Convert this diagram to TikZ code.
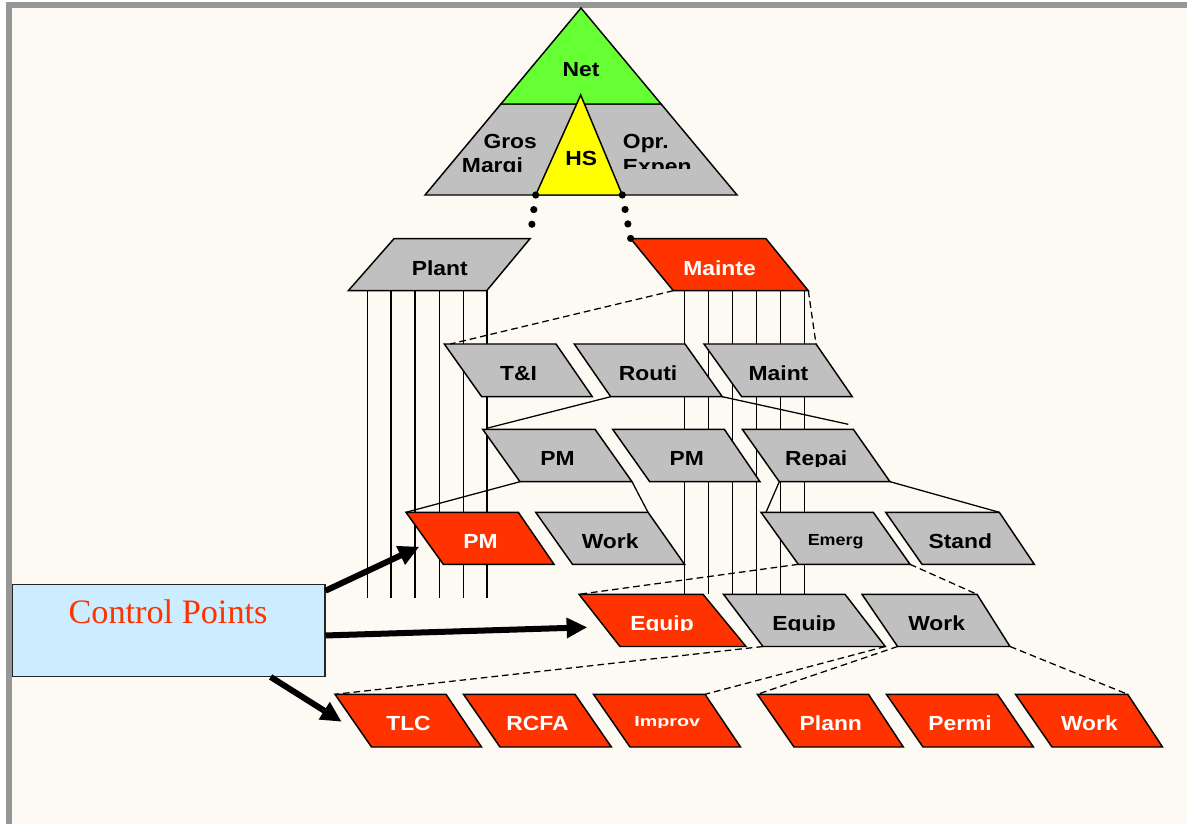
\documentclass[tikz,border=0pt]{standalone}
\usepackage{fontspec}
\usepackage{graphicx}
\setmainfont{Liberation Sans}
\newfontfamily\labfont[FakeStretch=1.12]{Liberation Sans}
\newfontfamily\cpfont{Liberation Serif}
\usetikzlibrary{arrows.meta,calc}

\definecolor{paper}{RGB}{253,249,243}
\definecolor{frame}{RGB}{150,150,150}
\definecolor{hot}{RGB}{255,51,0}
\definecolor{cool}{RGB}{192,192,192}
\definecolor{netgreen}{RGB}{102,255,51}
\definecolor{hsyellow}{RGB}{255,255,0}
\definecolor{cpblue}{RGB}{204,236,255}

\tikzset{
  shp/.style={draw=black, line width=1.1pt, line join=miter},
  grayshp/.style={shp, fill=cool},
  redshp/.style={shp, fill=hot},
  lbl/.style={inner sep=0pt, anchor=base, font=\labfont\bfseries\fontsize{15.3}{18}\selectfont},
  dk/.style={lbl, text=black},
  lt/.style={lbl, text=white},
  feed/.style={line width=0.95pt},
  feeddash/.style={line width=0.95pt, dash pattern=on 5pt off 3pt},
  rail/.style={line width=0.95pt},
  dots/.style={line width=5.4pt, line cap=round, dash pattern=on 0pt off 11.05pt},
  bigarrow/.style={line width=4.5pt, -{Triangle[length=15.5pt,width=14.5pt]}},
}

% parallelogram box: name, top-left x, top-right x, bottom-left x, bottom-right x, top y, bottom y, style
\newcommand\pgram[8]{%
  \coordinate (#1-tl) at (#2,#6);
  \coordinate (#1-tr) at (#3,#6);
  \coordinate (#1-bl) at (#4,#7);
  \coordinate (#1-br) at (#5,#7);
  \coordinate (#1-c) at ({(#2+#3+#4+#5)/4},{(#6+#7)/2});
  \draw[#8] (#1-tl) -- (#1-tr) -- (#1-br) -- (#1-bl) -- cycle;}

\begin{document}
\begin{tikzpicture}[x=0.75pt,y=-0.75pt]
  \useasboundingbox (0,0) rectangle (1187,824);
  % page frame
  \fill[white] (0,0) rectangle (1187,824);
  \fill[frame] (6,2) rectangle (1187,824);
  \fill[paper] (12,8) rectangle (1187,824);

  % vertical rails below Plant and Maintenance
  \foreach \x in {367.3,391,415,439.3,463.3,487}
    \draw[rail] (\x,290.7) -- (\x,598.3);
  \foreach \x in {684.3,708.3,732.3,756.7,780.7,804.3}
    \draw[rail] (\x,290.7) -- (\x,594.3);

  % boxes
  \pgram{plant}{394}{530}{348.3}{486.7}{238.7}{290.7}{grayshp}
  \pgram{mainte}{630.7}{766}{673.3}{808.3}{238.7}{290.7}{redshp}
  \pgram{ti}{444.3}{556}{481.7}{592.3}{344}{396.7}{grayshp}
  \pgram{routi}{574.3}{685}{610.7}{722.3}{344}{396.7}{grayshp}
  \pgram{maint}{704}{816}{741.7}{852.3}{344}{396.7}{grayshp}
  \pgram{pma}{482.7}{595}{520}{632}{429.3}{481.7}{grayshp}
  \pgram{pmb}{612.7}{724.3}{649.7}{760}{429.3}{481.7}{grayshp}
  \pgram{repai}{742.3}{853.3}{779.3}{890}{429.3}{481.7}{grayshp}
  \pgram{pmr}{406}{518.3}{443.3}{554}{512.3}{564.3}{redshp}
  \pgram{workd}{535.7}{648}{572.5}{684.5}{512.3}{564.3}{grayshp}
  \pgram{emerg}{761}{873.3}{798.3}{910}{512.3}{564.3}{grayshp}
  \pgram{stand}{885.7}{999.3}{922}{1034.3}{512.3}{564.3}{grayshp}
  \pgram{equipr}{579}{703}{620}{746}{594.3}{646.5}{redshp}
  \pgram{equipg}{723.5}{845}{763}{885.3}{594.3}{646.5}{grayshp}
  \pgram{worke}{862}{977}{897.6}{1010}{594.3}{646.5}{grayshp}
  \pgram{tlc}{335}{446}{371.5}{481.5}{694.3}{747}{redshp}
  \pgram{rcfa}{463.5}{575}{500}{611.4}{694.3}{747}{redshp}
  \pgram{improv}{593.5}{705}{630}{740.5}{694.3}{747}{redshp}
  \pgram{plann}{757.4}{868.5}{794}{903.3}{694.3}{747}{redshp}
  \pgram{permi}{886.4}{997.5}{923}{1033.4}{694.3}{747}{redshp}
  \pgram{workf}{1015.5}{1127.7}{1052}{1162.5}{694.3}{747}{redshp}

  % labels
  \node[dk] (plant) at ($(plant-c)+(0,10.3)$) {Plant};
  \node[lt] (mainte) at ($(mainte-c)+(0,10.3)$) {Mainte};
  \node[dk] (ti) at ($(ti-c)+(0,9.7)$) {T\&I};
  \node[dk] (routi) at ($(routi-c)+(0,9.7)$) {Routi};
  \node[dk] (maint) at ($(maint-c)+(0,9.7)$) {Maint};
  \node[dk] (pma) at ($(pma-c)+(0,9.5)$) {PM};
  \node[dk] (pmb) at ($(pmb-c)+(0,9.5)$) {PM};
  \begin{scope}
    \clip (742,425) rectangle (900,466);
    \node[dk] (repai) at ($(repai-c)+(0,9.5)$) {Repai};
  \end{scope}
  \node[lt] (pmr) at ($(pmr-c)+(0,9.7)$) {PM};
  \node[dk] (workd) at ($(workd-c)+(0,9.7)$) {Work};
  \node[dk, font=\labfont\bfseries\fontsize{12}{14}\selectfont] (emerg) at ($(emerg-c)+(0,6.7)$) {Emerg};
  \node[dk] (stand) at ($(stand-c)+(0,9.7)$) {Stand};
  \begin{scope}
    \clip (570,590) rectangle (900,630.6);
    \node[lt] (equipr) at ($(equipr-c)+(0,9.6)$) {Equip};
    \node[dk] (equipg) at ($(equipg-c)+(0,9.6)$) {Equip};
  \end{scope}
  \node[dk] (worke) at ($(worke-c)+(0,9.6)$) {Work};
  \node[lt] (tlc) at ($(tlc-c)+(0,9.4)$) {TLC};
  \node[lt] (rcfa) at ($(rcfa-c)+(0,9.4)$) {RCFA};
  \begin{scope}
    \clip (590,690) rectangle (745,727.3);
    \node[lt, font=\labfont\bfseries\fontsize{11}{13}\selectfont] (improv) at ($(improv-c)+(0,6.1)$) {\scalebox{1.2}[1]{Improv}};
  \end{scope}
  \node[lt] (plann) at ($(plann-c)+(0,9.4)$) {Plann};
  \node[lt] (permi) at ($(permi-c)+(0,9.4)$) {Permi};
  \node[lt] (workf) at ($(workf-c)+(0,9.4)$) {Work};

  % links between levels
  \draw[feeddash] (mainte-bl) -- ($(ti-tl)+(6,0)$);
  \draw[feeddash] (mainte-br) -- (maint-tr);
  \draw[feed] (routi-bl) -- ($(pma-tl)+(4,-1)$);
  \draw[feed] (routi-br) -- ($(repai-tr)+(-5,-5)$);
  \draw[feed] (pma-bl) -- (pmr-tl);
  \draw[feed] (pma-br) -- (workd-tr);
  \draw[feed] (repai-bl) -- ($(emerg-tl)+(5,0)$);
  \draw[feed] (repai-br) -- (stand-tr);
  \draw[feeddash] (emerg-bl) -- (equipr-tl);
  \draw[feeddash] (emerg-br) -- (worke-tr);
  \draw[feeddash] (equipg-bl) -- (tlc-tl);
  \draw[feeddash] (equipg-br) -- (improv-tr);
  \draw[feeddash] (worke-bl) -- (plann-tl);
  \draw[feeddash] (worke-br) -- (workf-tr);

  % top pyramid
  \coordinate (apex) at (581,8);
  \coordinate (tribl) at (425,195);
  \coordinate (tribr) at (737,195);
  \coordinate (gl) at (500.9,104);
  \coordinate (gr) at (661.1,104);
  \coordinate (hstop) at (580.7,95);
  \coordinate (hsl) at (535.7,195);
  \coordinate (hsr) at (622.3,195);
  \draw[shp, fill=cool] (tribl) -- (gl) -- (gr) -- (tribr) -- cycle;
  \draw[shp, fill=netgreen] (apex) -- (gr) -- (gl) -- cycle;
  \draw[shp, fill=hsyellow] (hstop) -- (hsr) -- (hsl) -- cycle;
  \node[dk] (net) at (581,76) {Net};
  \node[dk] (hs) at (581.3,165) {HS};
  \begin{scope}
    \clip (440,100) rectangle (540,171.7);
    \node[dk, anchor=base west] (gros) at (483.3,148.3) {Gros};
    \node[dk, anchor=base west] (margi) at (461.7,172.6) {Margi};
  \end{scope}
  \begin{scope}
    \clip (615,100) rectangle (720,168.3);
    \node[dk, anchor=base west] (opr) at (622.7,148.3) {Opr.};
    \node[dk, anchor=base west] (expen) at (622.7,173.6) {Expen};
  \end{scope}
  \draw[dots] (hsl) -- (plant-tr);
  \draw[dots] (hsr) -- (mainte-tl);

  % control points callout
  \node[draw=black!85, fill=cpblue, line width=0.9pt, minimum width=234.45pt,
        minimum height=68.8pt, inner sep=0pt, anchor=north west] (cpbox) at (11.7,584) {};
  \node[inner sep=0pt, anchor=base, text=hot, font=\cpfont\fontsize{25.7}{30}\selectfont]
        (cptext) at (168,623.3) {Control Points};
  \coordinate (tip1) at (419.3,546.7);
  \coordinate (tip2) at (587.3,627.3);
  \coordinate (tip3) at (341.7,721.7);
  \draw[bigarrow] ($(cpbox.north east)+(0,6.7)$) -- (tip1);
  \draw[bigarrow] ($(cpbox.east)+(0,5)$) -- (tip2);
  \draw[bigarrow] ($(cpbox.south)+(102,0)$) -- (tip3);
\end{tikzpicture}
\end{document}
